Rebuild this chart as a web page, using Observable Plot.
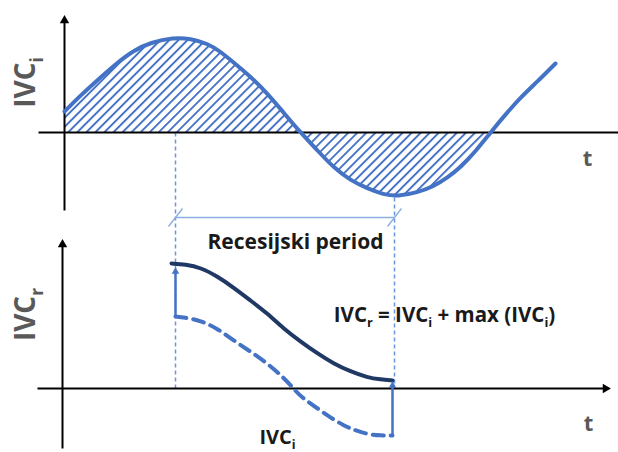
<!DOCTYPE html>
<html><head><meta charset="utf-8">
<script src="https://cdn.jsdelivr.net/npm/d3@7"></script>
<script src="https://cdn.jsdelivr.net/npm/@observablehq/plot@0.6"></script>
<style>body{margin:0;background:#fff;} #chart{width:618px;height:452px;}</style>
</head><body><div id="chart"></div>
<script>
// ---- data (diagram units: t along the time axis, value above the panel's baseline) ----
// Upper panel: IVC_i curve
const ivciT = [0, 1.6, 3.6, 5.3, 6.9, 8.6, 10.9, 12.6, 14.3, 15.6, 16.9, 18.6, 20.3, 21.9, 23.6, 25.3, 26.9, 28.6, 30.3, 31.9, 33.3, 35.3, 36.9, 38.3, 39.6, 41.1, 42.6, 44.1, 45.6, 47.3, 49.1];
const ivciV = [2.1, 3.7, 5.5, 7.0, 8.2, 9.0, 9.5, 9.4, 8.9, 8.1, 7.0, 5.6, 3.9, 2.0, 0, -1.8, -3.5, -4.8, -5.6, -6.2, -6.4, -6.0, -5.4, -4.5, -3.5, -1.9, 0, 1.8, 3.5, 5.1, 6.9];
const hatchEndT = 42.6;          // hatched area ends at the second zero crossing
// Lower panel: IVC_r (solid) and IVC_i during the recession period (dashed)
const ivcrT = [10.7, 12.1, 13.6, 15.3, 16.9, 18.6, 20.3, 21.9, 23.6, 25.3, 26.9, 28.6, 30.3, 31.6, 32.8];
const ivcrV = [12.5, 12.4, 12.1, 11.2, 10.1, 8.8, 7.5, 6.0, 4.7, 3.5, 2.5, 1.7, 1.1, 0.9, 0.8];
const recT = [11.1, 12.0, 13.6, 15.3, 16.9, 18.6, 20.3, 21.9, 22.9, 23.6, 25.6, 27.9, 30.3, 31.6, 32.8];
const recV = [7.2, 7.1, 6.8, 6.0, 4.8, 3.7, 2.5, 1.1, 0, -0.8, -2.2, -3.8, -4.6, -4.7, -4.7];
// Recession period bounds
const recessionStart = 11.1, recessionEnd = 33.0;
// Labels
const labelRecession = "Recesijski period";
const labelFormula = "IVC_r = IVC_i + max (IVC_i)";
const labelIvci = "IVC_i";
const labelIvcr = "IVC_r";
const labelT = "t";

// ---- layout constants ----
const BOT = -25.6; // baseline of the lower panel in y units
const blue = "#4472C4", navy = "#203864", guide = "#6A98DE", bracket = "#8DAEE3", gray = "#595959", ink = "#1a1a1a";
const font = "Open Sans";

const upper = ivciT.map((t, i) => ({t, v: ivciV[i]}));
const hatched = upper.filter(d => d.t <= hatchEndT);
const ivcr = ivcrT.map((t, i) => ({t, v: ivcrV[i] + BOT}));
const rec = recT.map((t, i) => ({t, v: recV[i] + BOT}));
const bracketY = -8.5;

const plot = Plot.plot({
  width: 618, height: 452,
  margin: 0,
  x: {domain: [-6.4, 55.4], axis: null},
  y: {domain: [-32, 13.2], axis: null},
  style: {background: "#fff"},
  marks: [
    // hatched area
    Plot.areaY(hatched, {x: "t", y1: 0, y2: "v", fill: "url(#hatch)", curve: "basis"}),
    // dashed guide lines
    Plot.link([{t: recessionStart, a: 0, b: BOT}, {t: recessionEnd, a: -6.5, b: BOT}],
      {x1: "t", x2: "t", y1: "a", y2: "b", stroke: guide, strokeWidth: 1.5, strokeDasharray: "4,3"}),
    // bracket
    Plot.link([{a: recessionStart, b: recessionEnd}], {x1: "a", x2: "b", y1: bracketY, y2: bracketY, stroke: bracket, strokeWidth: 1.6}),
    Plot.link([recessionStart, recessionEnd], {x1: d => d - 0.7, x2: d => d + 0.7, y1: bracketY - 0.9, y2: bracketY + 0.9, stroke: bracket, strokeWidth: 1.4}),
    // axes
    Plot.link([{a: -2.6, b: 55.4, y: 0}, {a: -2.7, b: 54.1, y: BOT}], {x1: "a", x2: "b", y1: "y", y2: "y", stroke: "#000", strokeWidth: 2}),
    Plot.link([{x: 0, a: -7.8, b: 11.2}, {x: -0.2, a: BOT - 6.0, b: BOT + 14.4}], {x1: "x", x2: "x", y1: "a", y2: "b", stroke: "#000", strokeWidth: 2}),
    Plot.dot([{x: 0, y: 11.2, r: 0}, {x: -0.2, y: BOT + 14.4, r: 0}, {x: 54.1, y: BOT, r: 90}],
      {x: "x", y: "y", rotate: "r", symbol: "triangle2", r: 4.5, fill: "#000"}),
    // curves
    Plot.line(upper, {x: "t", y: "v", stroke: blue, strokeWidth: 4, curve: "basis", strokeLinecap: "round"}),
    Plot.line(rec, {x: "t", y: "v", stroke: blue, strokeWidth: 4, curve: "basis", strokeDasharray: "11,7"}),
    Plot.line(ivcr, {x: "t", y: "v", stroke: navy, strokeWidth: 4, curve: "basis"}),
    // shift arrows
    Plot.link([{t: recessionStart, a: recV[0] + BOT, b: 11.7 + BOT}, {t: 32.8, a: -4.7 + BOT, b: 0.3 + BOT}],
      {x1: "t", x2: "t", y1: "a", y2: "b", stroke: blue, strokeWidth: 2.5}),
    Plot.dot([{t: recessionStart, v: 11.7 + BOT}, {t: 32.8, v: 0.3 + BOT}], {x: "t", y: "v", symbol: "triangle2", r: 3.6, fill: blue}),
    // labels
    Plot.text([labelIvci], {x: -3.8, y: 5.0, rotate: -90, fontSize: 28, fontWeight: "bold", fill: gray, fontFamily: font}),
    Plot.text([labelIvcr], {x: -3.8, y: BOT + 7.4, rotate: -90, fontSize: 28, fontWeight: "bold", fill: gray, fontFamily: font}),
    Plot.text([labelT], {x: 52.3, y: -2.6, fontSize: 22, fontWeight: "bold", fill: gray, fontFamily: font}),
    Plot.text([labelT], {x: 52.4, y: BOT - 3.5, fontSize: 22, fontWeight: "bold", fill: gray, fontFamily: font}),
    Plot.text([labelRecession], {x: 23.1, y: -11.0, fontSize: 21, fontWeight: "bold", fill: ink, fontFamily: font}),
    Plot.text([labelFormula], {x: 38.0, y: BOT + 7.3, fontSize: 20.5, fontWeight: "bold", fill: ink, fontFamily: font}),
    Plot.text([labelIvci], {x: 21.3, y: BOT - 4.9, fontSize: 20, fontWeight: "bold", fill: ink, fontFamily: font})
  ]
});

// hatch pattern definition
const svg = d3.select(plot);
const defs = svg.insert("defs", ":first-child");
const pat = defs.append("pattern").attr("id", "hatch").attr("patternUnits", "userSpaceOnUse")
  .attr("width", 6.4).attr("height", 10).attr("patternTransform", "rotate(45)");
pat.append("rect").attr("x", 0).attr("y", 0).attr("width", 1.9).attr("height", 10).attr("fill", blue);

// subscripts (IVC_i -> IVC with subscript i)
svg.selectAll("text").each(function () {
  const s = this.textContent;
  if (!s.includes("_")) return;
  const parts = s.split(/_(\w)/);
  const el = d3.select(this);
  el.text(null);
  parts.forEach((p, i) => {
    if (p === "") return;
    const ts = el.append("tspan").text(p);
    if (i % 2 === 1) ts.attr("font-size", "62%").attr("dy", "0.42em");
    else if (i > 0) ts.attr("dy", "-0.26em");
  });
});

document.getElementById("chart").appendChild(plot);
</script>
</body></html>
